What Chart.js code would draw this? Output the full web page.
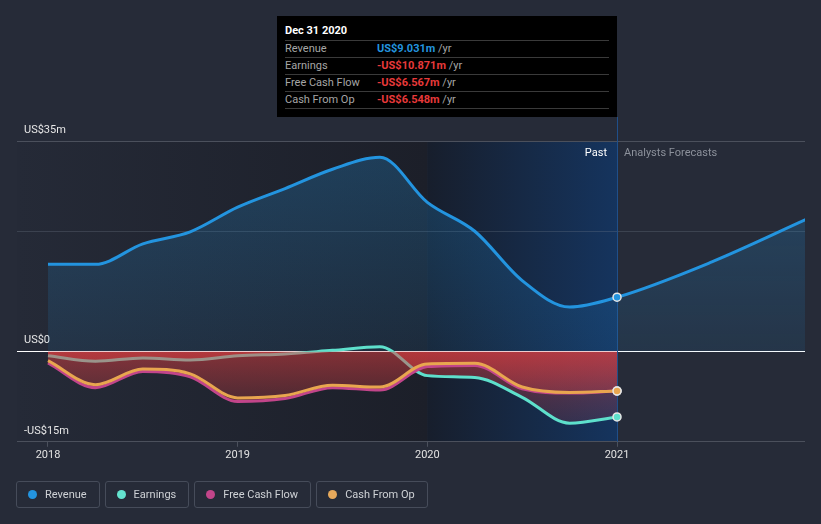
<!DOCTYPE html>
<html>
<head>
<meta charset="utf-8">
<script src="https://cdn.jsdelivr.net/npm/chart.js@4/dist/chart.umd.min.js"></script>
<style>
html,body{margin:0;padding:0;background:#262b38;width:821px;height:524px;overflow:hidden;font-family:Roboto,"Noto Sans",sans-serif;}
#wrap{position:relative;width:821px;height:524px;}
#c{position:absolute;left:0;top:0;}
#tip{position:absolute;left:277px;top:16px;width:340px;height:101px;background:#000;box-sizing:border-box;}
#tip .title{position:absolute;left:8px;top:8px;font-size:11px;line-height:14px;font-weight:bold;color:#fff;}
#tip .rows{position:absolute;left:8px;top:24px;width:324px;}
#tip .row{border-top:1px solid #3a3a3a;height:16px;line-height:16px;font-size:11px;color:#a6a6a6;white-space:nowrap;}
#tip .row:last-child{border-bottom:1px solid #3a3a3a;}
#tip .lab{display:inline-block;width:92px;}
#tip .val{font-weight:bold;}
.blue{color:#2394df;}
.red{color:#e8393a;}
#past{position:absolute;right:214px;top:146px;font-size:11px;line-height:14px;color:#fff;}
#fc{position:absolute;left:624px;top:146px;font-size:11px;line-height:14px;color:#8c919b;}
#legend{position:absolute;left:16px;top:481px;display:flex;}
#legend .item{display:flex;align-items:center;height:25px;border:1px solid #464c5a;border-radius:3px;padding:0 12px 0 11px;margin-right:5px;font-size:11px;color:#cfd2d6;}
#legend .dot{width:9px;height:9px;border-radius:50%;margin-right:8px;}
</style>
</head>
<body>
<div id="wrap">
<canvas id="c" width="821" height="524"></canvas>
<div id="tip">
  <div class="title">Dec 31 2020</div>
  <div class="rows">
    <div class="row"><span class="lab">Revenue</span><span class="val blue">US$9.031m</span> /yr</div>
    <div class="row"><span class="lab">Earnings</span><span class="val red">-US$10.871m</span> /yr</div>
    <div class="row"><span class="lab">Free Cash Flow</span><span class="val red">-US$6.567m</span> /yr</div>
    <div class="row"><span class="lab">Cash From Op</span><span class="val red">-US$6.548m</span> /yr</div>
  </div>
</div>
<div id="past">Past</div>
<div id="fc">Analysts Forecasts</div>
<div id="legend">
  <div class="item"><span class="dot" style="background:#2394df"></span>Revenue</div>
  <div class="item"><span class="dot" style="background:#64e3cf"></span>Earnings</div>
  <div class="item"><span class="dot" style="background:#c2458a"></span>Free Cash Flow</div>
  <div class="item"><span class="dot" style="background:#e6a95c"></span>Cash From Op</div>
</div>
</div>
<script>
// ---- data ----
const revenueDates  = [2018, 2018.25, 2018.5, 2018.75, 2019, 2019.25, 2019.5, 2019.75, 2020, 2020.25, 2020.5, 2020.75, 2021, 2021.5, 2022];
const revenueValues = [14.5, 14.5, 17.9, 19.9, 24.0, 27.1, 30.3, 32.3, 24.8, 20.0, 11.8, 7.4, 9.031, 14.9, 22.0];
const pastDates      = [2018, 2018.25, 2018.5, 2018.75, 2019, 2019.25, 2019.5, 2019.75, 2020, 2020.25, 2020.5, 2020.75, 2021];
const earningsValues = [-0.7, -1.6, -1.05, -1.4, -0.7, -0.4, 0.2, 0.8, -4.0, -4.3, -7.6, -11.9, -10.871];
const fcfValues      = [-1.9, -6.0, -3.3, -4.2, -8.3, -7.8, -6.0, -6.4, -2.5, -2.3, -6.2, -6.9, -6.567];
const cfoValues      = [-1.5, -5.5, -2.9, -3.7, -7.7, -7.3, -5.6, -5.9, -2.05, -1.95, -5.9, -6.8, -6.548];
const xTickYears  = [2018, 2019, 2020, 2021];
const yTickValues = [-15, 0, 20, 35];
const yTickLabels = ['-US$15m', 'US$0', '', 'US$35m'];
const xMin = 2017.8366, xMax = 2021.991;
const highlightStart = 2020, nowDate = 2021;

const pts = (d, v) => d.map((x, i) => ({x, y: v[i]}));
const isNow = c => c.raw && c.raw.x === nowDate;

function redFill(c) {
  const ch = c.chart;
  if (!ch.chartArea) return 'rgba(222,62,64,0.35)';
  const y = ch.scales.y;
  const g = ch.ctx.createLinearGradient(0, y.getPixelForValue(0), 0, y.getPixelForValue(-15));
  g.addColorStop(0, 'rgba(222,62,64,0.52)');
  g.addColorStop(0.55, 'rgba(222,62,64,0.24)');
  g.addColorStop(1, 'rgba(222,62,64,0.08)');
  return g;
}
function blueFill(c) {
  const ch = c.chart;
  if (!ch.chartArea) return 'rgba(35,148,223,0.18)';
  const y = ch.scales.y;
  const g = ch.ctx.createLinearGradient(0, y.getPixelForValue(35), 0, y.getPixelForValue(0));
  g.addColorStop(0, 'rgba(35,148,223,0.27)');
  g.addColorStop(1, 'rgba(35,148,223,0.10)');
  return g;
}

const bgPlugin = {
  id: 'bg',
  beforeDraw(chart) {
    const {ctx, chartArea: a, scales: {x}} = chart;
    const xs = x.getPixelForValue(highlightStart);
    const xn = x.getPixelForValue(nowDate);
    ctx.save();
    let g = ctx.createLinearGradient(a.left, 0, xs, 0);
    g.addColorStop(0, '#252a37');
    g.addColorStop(1, '#1c1f29');
    ctx.fillStyle = g;
    ctx.fillRect(a.left, a.top, xs - a.left, a.bottom - a.top);
    g = ctx.createLinearGradient(xs, 0, xn, 0);
    g.addColorStop(0, '#171e2c');
    g.addColorStop(1, '#15345e');
    ctx.fillStyle = g;
    ctx.fillRect(xs, a.top, xn - xs, a.bottom - a.top);
    ctx.restore();
  },
  beforeDatasetsDraw(chart) {
    const {ctx, chartArea: a, scales: {x}} = chart;
    const xn = Math.round(x.getPixelForValue(nowDate)) + 0.5;
    ctx.save();
    ctx.strokeStyle = '#1f4f8a';
    ctx.lineWidth = 1;
    ctx.beginPath();
    ctx.moveTo(xn, 117);
    ctx.lineTo(xn, a.bottom);
    ctx.stroke();
    ctx.restore();
  }
};

const common = {
  borderWidth: 3,
  cubicInterpolationMode: 'monotone',
  pointRadius: c => isNow(c) ? 4 : 0,
  pointBorderColor: '#e6e6e6',
  pointBorderWidth: 1.5,
  pointHoverRadius: 0
};

Chart.defaults.font.family = 'Roboto, "Noto Sans", sans-serif';

new Chart(document.getElementById('c'), {
  type: 'line',
  data: {
    datasets: [
      Object.assign({}, common, {
        label: 'Revenue', data: pts(revenueDates, revenueValues),
        borderColor: '#2394df', pointBackgroundColor: '#2394df',
        backgroundColor: blueFill, fill: 'origin', order: 4
      }),
      Object.assign({}, common, {
        label: 'Earnings', data: pts(pastDates, earningsValues),
        borderColor: '#5ee0cc', pointBackgroundColor: '#5ee0cc',
        backgroundColor: redFill, fill: {target: 'origin', above: 'rgba(0,0,0,0)'}, order: 3
      }),
      Object.assign({}, common, {
        label: 'Free Cash Flow', data: pts(pastDates, fcfValues),
        borderColor: '#c2458a', pointBackgroundColor: '#c2458a',
        backgroundColor: redFill, fill: {target: 'origin', above: 'rgba(0,0,0,0)'}, order: 2
      }),
      Object.assign({}, common, {
        label: 'Cash From Op', data: pts(pastDates, cfoValues),
        borderColor: '#e8a64f', pointBackgroundColor: '#e8a64f',
        fill: false, order: 1
      })
    ]
  },
  options: {
    responsive: false,
    animation: false,
    events: [],
    layout: {padding: {left: 17, right: 16, top: 141, bottom: 60}},
    plugins: {legend: {display: false}, tooltip: {enabled: false}},
    scales: {
      x: {
        type: 'linear', min: xMin, max: xMax,
        afterBuildTicks: s => { s.ticks = xTickYears.map(v => ({value: v})); },
        ticks: {color: '#e2e2e2', font: {size: 11}, padding: 2, callback: v => String(v), maxRotation: 0, autoSkip: false},
        grid: {drawOnChartArea: false, drawTicks: true, tickLength: 5, color: '#4b505c'},
        border: {display: false}
      },
      y: {
        type: 'linear', min: -15, max: 35,
        afterBuildTicks: s => { s.ticks = yTickValues.map(v => ({value: v})); },
        afterFit: s => { s.width = 0; },
        ticks: {
          mirror: true, padding: 7, labelOffset: -11, color: '#e6e6e6', font: {size: 11},
          callback: v => yTickLabels[yTickValues.indexOf(v)]
        },
        grid: {
          drawTicks: false,
          color: c => {
            const v = c.tick && c.tick.value;
            if (v === 0) return '#ffffff';
            if (v === 20) return 'rgba(120,128,145,0.28)';
            return '#4b505c';
          }
        },
        border: {display: false}
      }
    }
  },
  plugins: [bgPlugin]
});
</script>
</body>
</html>
